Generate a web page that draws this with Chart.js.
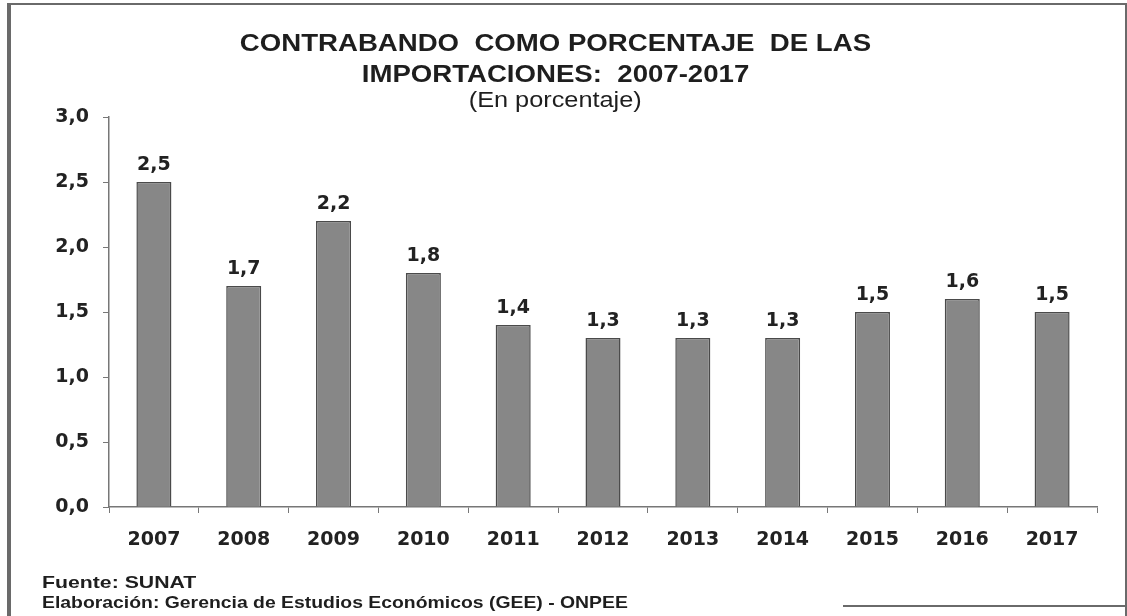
<!DOCTYPE html>
<html>
<head>
<meta charset="utf-8">
<script src="https://cdn.jsdelivr.net/npm/chart.js@4"></script>
<style>
  body { margin: 0; background: #fff; overflow: hidden; }
  #wrap { position: relative; width: 1127px; height: 616px; overflow: hidden; }
  #chart { position: absolute; left: 0; top: 0; }
  #frame {
    position: absolute; left: 7px; top: 3px; width: 1114px; height: 620px;
    border: 2px solid #6a6a6a; border-left-width: 4px; border-bottom: none;
  }
  #frame-right { position: absolute; left: 1123px; top: 600px; width: 2px; height: 16px; background: #fff; }
  #frame-bottom { position: absolute; left: 843px; top: 605px; width: 282px; height: 2px; background: #6a6a6a; }
  .t {
    position: absolute; left: 0; width: 1110px; text-align: center;
    font-family: "Liberation Sans", Arial, sans-serif; color: #1e1e1e;
    white-space: pre; line-height: 1;
  }
  .t span { display: inline-block; transform: scaleX(1.15); }
  #t1 { top: 31px; font-size: 24px; font-weight: bold; }
  #t2 { top: 62px; font-size: 24px; font-weight: bold; }
  #t3 { top: 89px; font-size: 22px; }
  .f {
    position: absolute; left: 42px; font-family: "Liberation Sans", Arial, sans-serif;
    font-size: 17px; font-weight: bold; color: #1e1e1e; white-space: pre;
    transform-origin: left center; line-height: 1;
  }
  #f1 { top: 574px; transform: scaleX(1.25); }
  #f2 { top: 594px; transform: scaleX(1.14); }
</style>
</head>
<body>
<div id="wrap">
  <canvas id="chart" width="1127" height="616"></canvas>
  <div id="frame"></div>
  <div id="frame-right"></div>
  <div id="frame-bottom"></div>
  <div class="t" id="t1"><span>CONTRABANDO  COMO PORCENTAJE  DE LAS</span></div>
  <div class="t" id="t2"><span>IMPORTACIONES:  2007-2017</span></div>
  <div class="t" id="t3"><span>(En porcentaje)</span></div>
  <div class="f" id="f1">Fuente: SUNAT</div>
  <div class="f" id="f2">Elaboración: Gerencia de Estudios Económicos (GEE) - ONPEE</div>
</div>
<script>
(() => {
  "use strict";

  const years = ["2007", "2008", "2009", "2010", "2011", "2012", "2013", "2014", "2015", "2016", "2017"];
  const contrabando = [2.5, 1.7, 2.2, 1.8, 1.4, 1.3, 1.3, 1.3, 1.5, 1.6, 1.5];
  const yRange = [0, 3];
  const yStep = 0.5;

  const fmt = (v) => v.toFixed(1).replace(".", ",");
  const tickFont = { family: "DejaVu Sans", size: 19, weight: "bold" };

  // value labels over each bar
  const valueLabels = {
    id: "valueLabels",
    afterDatasetsDraw(chart) {
      const ctx = chart.ctx;
      const meta = chart.getDatasetMeta(0);
      ctx.save();
      ctx.font = 'bold 19px "DejaVu Sans"';
      ctx.fillStyle = "#222";
      ctx.textAlign = "center";
      ctx.textBaseline = "alphabetic";
      meta.data.forEach((bar, i) => {
        ctx.fillText(fmt(contrabando[i]), bar.x, bar.y - 12);
      });
      ctx.restore();
    },
  };

  const ctx = document.getElementById("chart");
  // eslint-disable-next-line no-unused-vars
  const myChart = new Chart(ctx, {
    type: "bar",
    data: {
      labels: years,
      datasets: [
        {
          data: contrabando,
          backgroundColor: "#878787",
          borderColor: "#4a4a4a",
          borderWidth: 1.5,
          barPercentage: 0.39,
          categoryPercentage: 1,
        },
      ],
    },
    options: {
      responsive: false,
      animation: false,
      devicePixelRatio: 1,
      layout: { padding: { top: 117, right: 30, left: 0, bottom: 0 } },
      plugins: {
        legend: { display: false },
        tooltip: { enabled: false },
      },
      scales: {
        x: {
          grid: { drawOnChartArea: false, tickLength: 6, color: "#777", offset: true },
          border: { color: "#777", width: 1.5 },
          ticks: { font: tickFont, color: "#222", padding: 16 },
          afterFit: (s) => { s.height = 109; },
        },
        y: {
          min: yRange[0],
          max: yRange[1],
          grid: { drawOnChartArea: false, tickLength: 6, color: "#777" },
          border: { color: "#777", width: 1.5 },
          ticks: { stepSize: yStep, font: tickFont, color: "#222", padding: 14, callback: (v) => fmt(v) },
          afterFit: (s) => { s.width = 109; },
        },
      },
    },
    plugins: [valueLabels],
  });
})();
</script>
</body>
</html>
